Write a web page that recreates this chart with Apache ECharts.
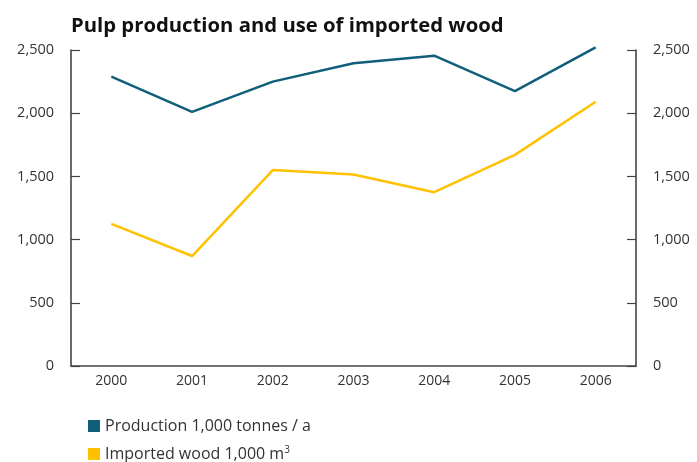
<!DOCTYPE html>
<html>
<head>
<meta charset="utf-8">
<script src="https://cdn.jsdelivr.net/npm/echarts@6/dist/echarts.min.js"></script>
<style>html,body{margin:0;padding:0;background:#fff}#c{width:697px;height:462px}</style>
</head>
<body>
<div id="c"></div>
<script>
const categories = ['2000','2001','2002','2003','2004','2005','2006'];
const production = [2290, 2010, 2250, 2395, 2455, 2175, 2520];
const imported = [1125, 870, 1550, 1515, 1375, 1670, 2090];
const yTicks = [0, 500, 1000, 1500, 2000, 2500];
const seriesNames = ['Production 1,000 tonnes / a', 'Imported wood 1,000 m3'];

const chart = echarts.init(document.getElementById('c'));
const fmt = v => v.toLocaleString('en-US');
const axisCommon = {
  type: 'value', min: yTicks[0], max: yTicks[yTicks.length-1], interval: 500,
  axisLine: {show: true, lineStyle: {color: '#444', width: 1.6}},
  axisTick: {show: true, inside: true, length: 9, lineStyle: {color: '#444', width: 1.2}},
  splitLine: {show: false},
  axisLabel: {formatter: fmt, color: '#333', fontFamily: 'Open Sans', fontSize: 14.5, margin: 17}
};
const legendText = {fontFamily: 'Open Sans', fontSize: 16, lineHeight: 18, color: '#333',
  rich: {sup: {fontSize: 10, lineHeight: 18, verticalAlign: 'top', padding: [0,0,6,0], fontFamily: 'Open Sans', color: '#333'}}};
chart.setOption({
  animation: false,
  title: {text: 'Pulp production and use of imported wood', left: 66, top: 11,
    textStyle: {fontFamily: 'Open Sans', fontWeight: 'bold', fontSize: 20.3, color: '#111'}},
  grid: {left: 71, right: 61, top: 50, bottom: 96},
  legend: [
    {left: 88, top: 417, padding: 0, itemWidth: 12, itemHeight: 12, icon: 'rect', itemGap: 0,
      textStyle: legendText, data: [seriesNames[0]]},
    {left: 88, top: 445, padding: 0, itemWidth: 12, itemHeight: 12, icon: 'rect', itemGap: 0,
      textStyle: legendText, data: [seriesNames[1]],
      formatter: n => 'Imported wood 1,000 m{sup|3}'}
  ],
  xAxis: {type: 'category', data: categories, boundaryGap: true,
    axisLine: {lineStyle: {color: '#444', width: 1.6}},
    axisTick: {show: false},
    axisLabel: {color: '#333', fontFamily: 'Open Sans', fontSize: 14, margin: 8}},
  yAxis: [Object.assign({position: 'left'}, axisCommon), Object.assign({position: 'right'}, axisCommon)],
  series: [
    {name: seriesNames[0], type: 'line', data: production, yAxisIndex: 0,
      showSymbol: false, symbol: 'none', clip: false, lineStyle: {color: '#115e7b', width: 2.5}, itemStyle: {color: '#115e7b'}},
    {name: seriesNames[1], type: 'line', data: imported, yAxisIndex: 0,
      showSymbol: false, symbol: 'none', clip: false, lineStyle: {color: '#ffc100', width: 2.5}, itemStyle: {color: '#ffc100'}}
  ]
});
</script>
</body>
</html>
